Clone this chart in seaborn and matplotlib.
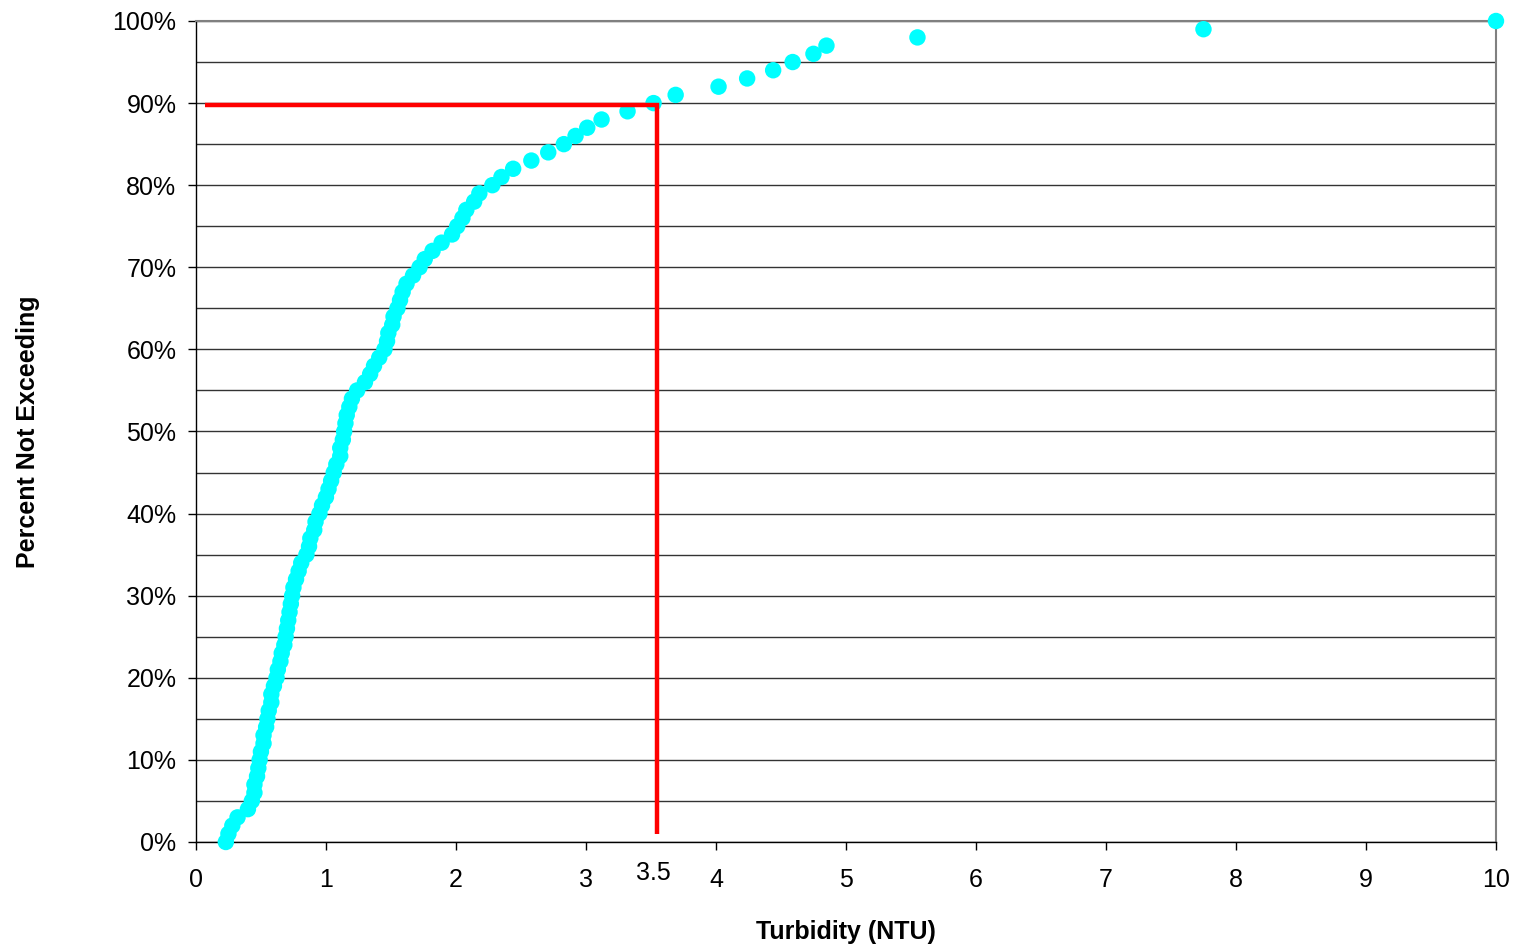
import matplotlib

matplotlib.use("Agg")
import matplotlib.pyplot as plt
import numpy as np
import pandas as pd
import seaborn as sns
from matplotlib.ticker import FuncFormatter, MultipleLocator

# Turbidity (NTU) at each percent-not-exceeding level (0..100 in 1% steps)
turbidity = [
    0.23, 0.25, 0.28, 0.32, 0.40, 0.43, 0.45, 0.45, 0.47, 0.48,
    0.49, 0.50, 0.52, 0.52, 0.54, 0.55, 0.56, 0.58, 0.58, 0.60,
    0.62, 0.63, 0.65, 0.66, 0.68, 0.69, 0.70, 0.71, 0.72, 0.73,
    0.74, 0.75, 0.77, 0.79, 0.81, 0.85, 0.87, 0.88, 0.91, 0.92,
    0.95, 0.97, 1.00, 1.02, 1.04, 1.06, 1.08, 1.11, 1.11, 1.13,
    1.14, 1.15, 1.16, 1.18, 1.20, 1.24, 1.30, 1.34, 1.37, 1.41,
    1.45, 1.47, 1.48, 1.51, 1.52, 1.55, 1.57, 1.59, 1.62, 1.67,
    1.72, 1.76, 1.82, 1.89, 1.97, 2.01, 2.05, 2.08, 2.14, 2.18,
    2.28, 2.35, 2.44, 2.58, 2.71, 2.83, 2.92, 3.01, 3.12, 3.32,
    3.52, 3.69, 4.02, 4.24, 4.44, 4.59, 4.75, 4.85, 5.55, 7.75,
    10.0,
]
percent = list(range(0, 101))

# 90th percentile reference line
ref_x = [0.07, 3.55, 3.55]
ref_y = [89.8, 89.8, 1.0]
ref_label = "3.5"
ref_label_x = 3.52

x_ticks = list(range(0, 11))
y_major = list(range(0, 101, 10))

sns.set_style("white")
plt.rcParams["font.family"] = ["Liberation Sans", "DejaVu Sans"]
plt.rcParams["text.color"] = "black"
plt.rcParams["axes.labelcolor"] = "black"
plt.rcParams["xtick.color"] = "black"
plt.rcParams["ytick.color"] = "black"

df = pd.DataFrame({"Turbidity (NTU)": turbidity, "Percent Not Exceeding": percent})

fig = plt.figure(figsize=(15.2, 9.5), dpi=100)
ax = fig.add_axes([0.1289, 0.1137, 0.8553, 0.8642])

# gridlines every 5%
ax.set_yticks(y_major)
ax.yaxis.set_minor_locator(MultipleLocator(5))
ax.yaxis.grid(True, which="both", color="#333333", linewidth=1.0, zorder=0)
ax.xaxis.grid(False)
ax.set_axisbelow(True)

sns.scatterplot(
    data=df,
    x="Turbidity (NTU)",
    y="Percent Not Exceeding",
    ax=ax,
    color="#00FFFF",
    s=140,
    edgecolor="none",
    linewidth=0,
    clip_on=False,
    zorder=3,
)

ax.plot(ref_x, ref_y, color="#FF0000", linewidth=3.2, zorder=4,
        solid_joinstyle="miter", solid_capstyle="butt")

ax.set_xlim(0, 10)
ax.set_ylim(0, 100)
ax.set_xticks(x_ticks)
ax.yaxis.set_major_formatter(FuncFormatter(lambda v, _: f"{v:.0f}%"))

ax.tick_params(axis="both", which="major", direction="out", length=6,
               width=1, color="black", labelcolor="black", labelsize=18,
               left=True, bottom=True)
ax.tick_params(axis="y", which="major", pad=8)
ax.tick_params(axis="x", which="major", pad=13)
ax.tick_params(axis="y", which="minor", length=0)

for side in ["left", "bottom"]:
    ax.spines[side].set_color("black")
    ax.spines[side].set_linewidth(1.0)
for side in ["top", "right"]:
    ax.spines[side].set_color("#808080")
    ax.spines[side].set_linewidth(1.5)

ax.annotate(ref_label, xy=(ref_label_x, 0), xycoords=("data", "axes fraction"),
            xytext=(0, -14), textcoords="offset points",
            ha="center", va="top", fontsize=18, color="black")

ax.set_xlabel("Turbidity (NTU)", fontsize=18, fontweight="bold", labelpad=20,
              color="black")
ax.set_ylabel("Percent Not Exceeding", fontsize=18, fontweight="bold", labelpad=52,
              color="black")

fig.savefig("out.png", dpi=100)
plt.close(fig)
